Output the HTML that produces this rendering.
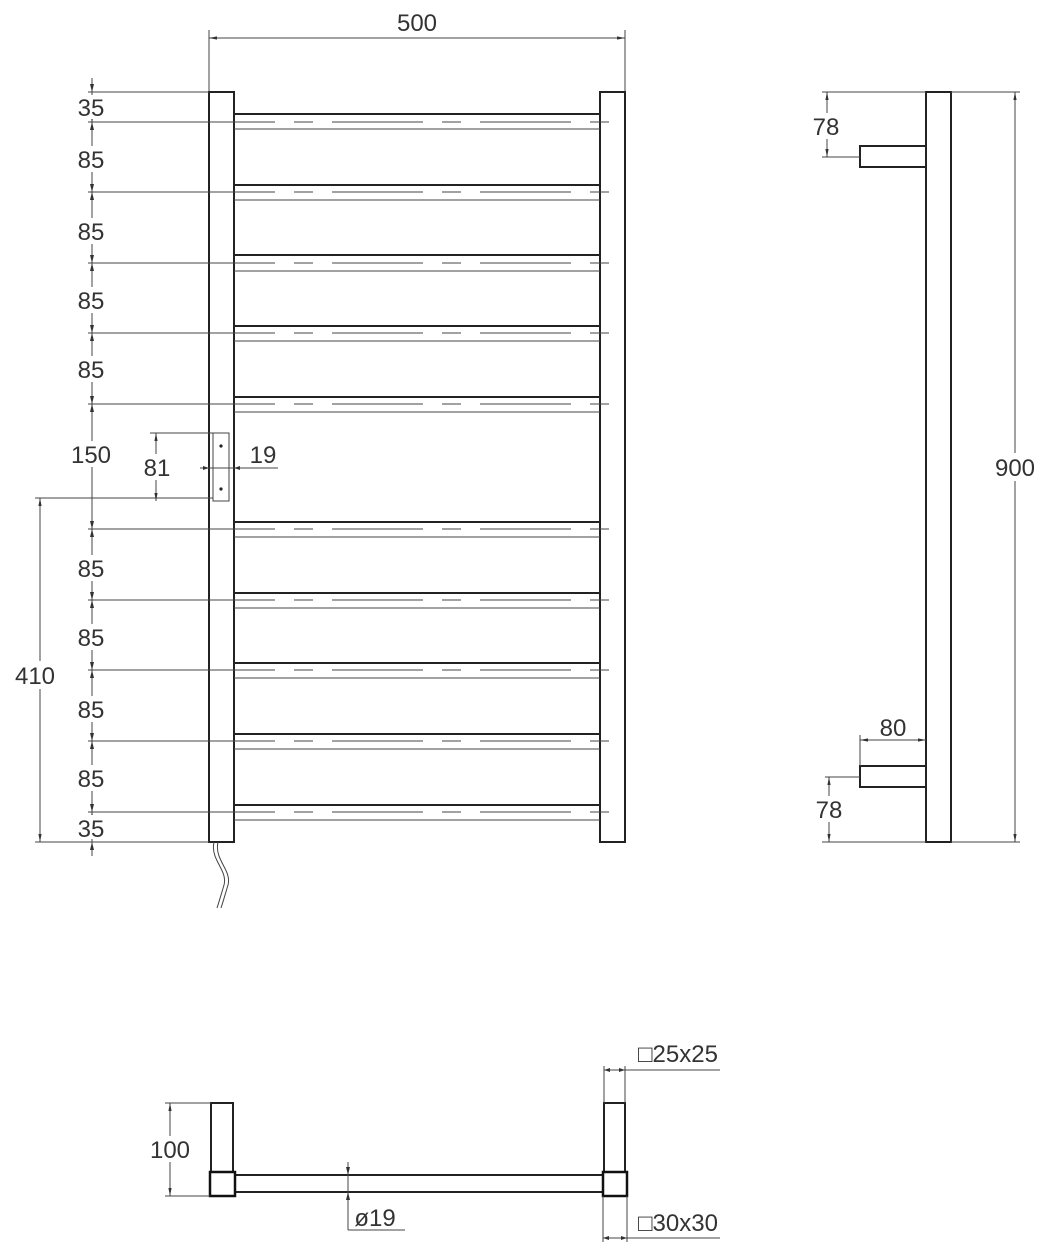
<!DOCTYPE html>
<html><head><meta charset="utf-8"><style>
html,body{margin:0;padding:0;background:#fff}
svg{display:block}
text{font-family:"Liberation Sans",sans-serif;font-size:24px;fill:#333;text-anchor:middle}
.t{stroke:#222;stroke-width:2;fill:none}
.n{stroke:#444;stroke-width:1;fill:none}
</style></head><body>
<svg width="1049" height="1260" viewBox="0 0 1049 1260" xmlns="http://www.w3.org/2000/svg">
<defs>
<marker id="a" viewBox="0 0 10 10" refX="10" refY="5" markerWidth="8" markerHeight="8" orient="auto-start-reverse"><path d="M0,3 L10,5 L0,7 z" fill="#333"/></marker>
</defs>
<!-- top 500 dim -->
<line class="n" x1="209" y1="30" x2="209" y2="92"/>
<line class="n" x1="625" y1="30" x2="625" y2="92"/>
<line class="n" x1="209" y1="38" x2="625" y2="38" marker-start="url(#a)" marker-end="url(#a)"/>
<text x="417" y="31">500</text>
<!-- posts -->
<rect class="t" x="209" y="92" width="25" height="750"/>
<rect class="t" x="600" y="92" width="25" height="750"/>
<!-- bars -->
<g id="bars">
<g class="t">
<line x1="234" y1="114" x2="600" y2="114"/><line x1="234" y1="185" x2="600" y2="185"/><line x1="234" y1="255" x2="600" y2="255"/><line x1="234" y1="326" x2="600" y2="326"/><line x1="234" y1="397" x2="600" y2="397"/><line x1="234" y1="522" x2="600" y2="522"/><line x1="234" y1="593" x2="600" y2="593"/><line x1="234" y1="663" x2="600" y2="663"/><line x1="234" y1="734" x2="600" y2="734"/><line x1="234" y1="805" x2="600" y2="805"/>
</g>
<g class="n" stroke-width="1.5">
<line x1="234" y1="129" x2="600" y2="129"/><line x1="234" y1="200" x2="600" y2="200"/><line x1="234" y1="271" x2="600" y2="271"/><line x1="234" y1="341" x2="600" y2="341"/><line x1="234" y1="412" x2="600" y2="412"/><line x1="234" y1="537" x2="600" y2="537"/><line x1="234" y1="608" x2="600" y2="608"/><line x1="234" y1="678" x2="600" y2="678"/><line x1="234" y1="749" x2="600" y2="749"/><line x1="234" y1="820" x2="600" y2="820"/>
</g>
</g>
<!-- centerlines -->
<g class="n">
<line x1="88" y1="122" x2="275" y2="122"/><line x1="88" y1="192" x2="275" y2="192"/><line x1="88" y1="263" x2="275" y2="263"/><line x1="88" y1="333" x2="275" y2="333"/><line x1="88" y1="404" x2="275" y2="404"/><line x1="88" y1="529" x2="275" y2="529"/><line x1="88" y1="600" x2="275" y2="600"/><line x1="88" y1="670" x2="275" y2="670"/><line x1="88" y1="741" x2="275" y2="741"/><line x1="88" y1="812" x2="275" y2="812"/>
</g>
<g class="n" stroke-dasharray="19 19 91 19">
<line x1="294" y1="122" x2="614" y2="122"/><line x1="294" y1="192" x2="614" y2="192"/><line x1="294" y1="263" x2="614" y2="263"/><line x1="294" y1="333" x2="614" y2="333"/><line x1="294" y1="404" x2="614" y2="404"/><line x1="294" y1="529" x2="614" y2="529"/><line x1="294" y1="600" x2="614" y2="600"/><line x1="294" y1="670" x2="614" y2="670"/><line x1="294" y1="741" x2="614" y2="741"/><line x1="294" y1="812" x2="614" y2="812"/>
</g>
<!-- left vertical dim chain -->
<line class="n" x1="88" y1="92" x2="209" y2="92"/>
<line class="n" x1="35" y1="842" x2="209" y2="842"/>
<line class="n" x1="35" y1="498" x2="213" y2="498"/>
<line class="n" x1="92" y1="78" x2="92" y2="856"/>
<g fill="#333">
<path d="M92,92 l-2,-8 h4z M92,122 l-2,-8 h4z M92,122 l-2,8 h4z M92,192 l-2,-8 h4z M92,192 l-2,8 h4z M92,263 l-2,-8 h4z M92,263 l-2,8 h4z M92,333 l-2,-8 h4z M92,333 l-2,8 h4z M92,404 l-2,-8 h4z M92,404 l-2,8 h4z M92,529 l-2,-8 h4z M92,529 l-2,8 h4z M92,600 l-2,-8 h4z M92,600 l-2,8 h4z M92,670 l-2,-8 h4z M92,670 l-2,8 h4z M92,741 l-2,-8 h4z M92,741 l-2,8 h4z M92,812 l-2,-8 h4z M92,812 l-2,8 h4z M92,842 l-2,8 h4z"/>
</g>
<g>
<rect x="72" y="95" width="40" height="24" fill="#fff"/><text x="91" y="116">35</text>
<rect x="72" y="146" width="40" height="26" fill="#fff"/><text x="91" y="168">85</text>
<rect x="72" y="218" width="40" height="26" fill="#fff"/><text x="91" y="240">85</text>
<rect x="72" y="287" width="40" height="26" fill="#fff"/><text x="91" y="309">85</text>
<rect x="72" y="356" width="40" height="26" fill="#fff"/><text x="91" y="378">85</text>
<rect x="66" y="441" width="52" height="26" fill="#fff"/><text x="91" y="463">150</text>
<rect x="72" y="555" width="40" height="26" fill="#fff"/><text x="91" y="577">85</text>
<rect x="72" y="624" width="40" height="26" fill="#fff"/><text x="91" y="646">85</text>
<rect x="72" y="696" width="40" height="26" fill="#fff"/><text x="91" y="718">85</text>
<rect x="72" y="765" width="40" height="26" fill="#fff"/><text x="91" y="787">85</text>
<rect x="72" y="815" width="40" height="24" fill="#fff"/><text x="91" y="837">35</text>
</g>
<!-- 410 -->
<line class="n" x1="40" y1="498" x2="40" y2="842" marker-start="url(#a)" marker-end="url(#a)"/>
<rect x="12" y="661" width="48" height="28" fill="#fff"/><text x="35" y="684">410</text>
<!-- box -->
<rect class="n" stroke-width="1.5" x="213" y="433" width="16" height="68" fill="#fff"/>
<circle cx="221" cy="446" r="1.6" fill="#222"/><circle cx="221" cy="489" r="1.6" fill="#222"/>
<line class="n" x1="150" y1="433" x2="213" y2="433"/>
<line class="n" x1="156" y1="433" x2="156" y2="501" marker-start="url(#a)" marker-end="url(#a)"/>
<rect x="140" y="454" width="34" height="26" fill="#fff"/><text x="157" y="476">81</text>
<line class="n" x1="200" y1="468" x2="278" y2="468"/>
<path d="M209,468 l-6,-2 v4z M234,468 l6,-2 v4z" fill="#333"/>
<text x="263" y="463">19</text>
<!-- cable -->
<path class="n" stroke-width="1.5" d="M214,842 C210,860 228,870 224,885 C221,895 219,902 217,908"/>
<path class="n" stroke-width="1.5" d="M218,842 C214,860 232,870 228,885 C225,895 223,902 221,908"/>
<!-- side view -->
<rect class="t" x="926" y="92" width="25" height="750"/>
<rect class="t" x="860" y="146" width="66" height="21"/>
<rect class="t" x="860" y="766" width="66" height="21"/>
<line class="n" x1="822" y1="92" x2="926" y2="92"/>
<line class="n" x1="951" y1="92" x2="1020" y2="92"/>
<line class="n" x1="951" y1="842" x2="1020" y2="842"/>
<line class="n" x1="822" y1="842" x2="926" y2="842"/>
<line class="n" x1="1015" y1="92" x2="1015" y2="842" marker-start="url(#a)" marker-end="url(#a)"/>
<rect x="992" y="453" width="46" height="28" fill="#fff"/><text x="1015" y="476">900</text>
<line class="n" x1="822" y1="157" x2="860" y2="157"/>
<line class="n" x1="827" y1="92" x2="827" y2="157" marker-start="url(#a)" marker-end="url(#a)"/>
<rect x="810" y="113" width="34" height="26" fill="#fff"/><text x="826" y="135">78</text>
<line class="n" x1="860" y1="735" x2="860" y2="766"/>
<line class="n" x1="860" y1="740" x2="926" y2="740" marker-start="url(#a)" marker-end="url(#a)"/>
<text x="893" y="736">80</text>
<line class="n" x1="825" y1="777" x2="860" y2="777"/>
<line class="n" x1="829" y1="777" x2="829" y2="842" marker-start="url(#a)" marker-end="url(#a)"/>
<rect x="812" y="796" width="34" height="26" fill="#fff"/><text x="829" y="818">78</text>
<!-- bottom view -->
<rect class="t" x="211" y="1103" width="22" height="69"/>
<rect class="t" x="604" y="1103" width="21" height="69"/>
<rect class="t" x="235" y="1175" width="368" height="17"/>
<rect x="210" y="1172" width="25" height="24" fill="#fff" stroke="#111" stroke-width="2.5"/>
<rect x="603" y="1172" width="24" height="24" fill="#fff" stroke="#111" stroke-width="2.5"/>
<line class="n" x1="165" y1="1103" x2="211" y2="1103"/>
<line class="n" x1="165" y1="1196" x2="210" y2="1196"/>
<line class="n" x1="170" y1="1103" x2="170" y2="1196" marker-start="url(#a)" marker-end="url(#a)"/>
<rect x="148" y="1136" width="44" height="26" fill="#fff"/><text x="170" y="1158">100</text>
<line class="n" x1="348" y1="1162" x2="348" y2="1230"/>
<path d="M348,1175 l-2,-8 h4z M348,1192 l-2,8 h4z" fill="#333"/>
<line class="n" x1="348" y1="1230" x2="405" y2="1230"/>
<text x="375" y="1226">ø19</text>
<line class="n" x1="604" y1="1066" x2="604" y2="1103"/>
<line class="n" x1="625" y1="1066" x2="625" y2="1103"/>
<line class="n" x1="604" y1="1070" x2="720" y2="1070"/>
<path d="M604,1070 l6,-2 v4z M625,1070 l-6,-2 v4z" fill="#333"/>
<text x="678" y="1062">□25x25</text>
<line class="n" x1="603" y1="1196" x2="603" y2="1242"/>
<line class="n" x1="627" y1="1196" x2="627" y2="1242"/>
<line class="n" x1="603" y1="1238" x2="720" y2="1238"/>
<path d="M603,1238 l6,-2 v4z M627,1238 l-6,-2 v4z" fill="#333"/>
<text x="678" y="1231">□30x30</text>
</svg>
</body></html>
